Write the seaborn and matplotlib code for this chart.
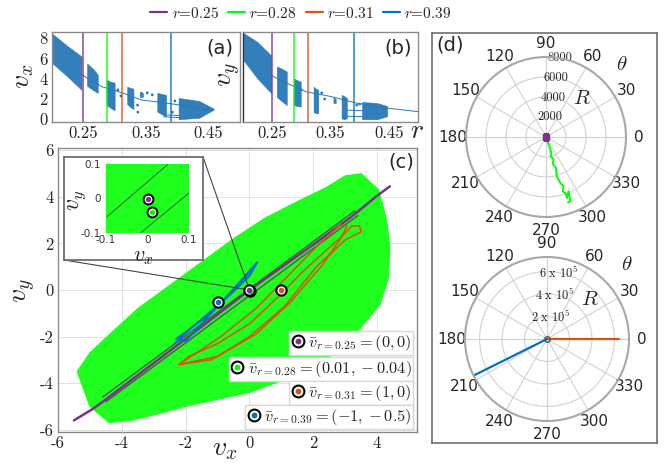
import numpy as np
import matplotlib
matplotlib.use('Agg')
import matplotlib.pyplot as plt
import seaborn as sns
from matplotlib.lines import Line2D
from matplotlib.patches import ConnectionPatch
from matplotlib.legend_handler import HandlerTuple

# ---------------- data ----------------
r_values = [0.25, 0.28, 0.31, 0.39]
r_labels = [r'$r$=0.25', r'$r$=0.28', r'$r$=0.31', r'$r$=0.39']
r_colors = ['#7E2F8E', '#00FF00', '#D95319', '#0072BD']
r_marks = [0.25, 0.288, 0.312, 0.39]      # where the marker lines sit in (a), (b)

# (a) v_x bifurcation clusters: r at left/mid/right edge, lower and upper v
a_band_r = [(0.201, 0.225, 0.247), (0.256, 0.265, 0.273), (0.287, 0.294, 0.300),
            (0.320, 0.325, 0.330), (0.340, 0.3425, 0.345), (0.368, 0.375, 0.382),
            (0.402, 0.435, 0.458)]
a_band_lo = [(5.5, 4.2, 2.9), (3.3, 2.9, 2.6), (1.4, 1.1, 0.9), (1.5, 1.2, 1.0),
             (2.2, 2.2, 2.2), (0.75, 0.5, 0.3), (0.0, 0.15, 0.95)]
a_band_hi = [(8.4, 7.2, 6.2), (5.5, 5.0, 4.4), (3.9, 3.7, 3.6), (3.2, 3.1, 3.0),
             (2.7, 2.7, 2.6), (2.6, 2.5, 2.4), (2.1, 1.8, 1.05)]
a_line_r = [0.247, 0.280, 0.312, 0.343, 0.369, 0.405, 0.457]
a_line_v = [4.4, 3.2, 2.6, 1.9, 1.7, 1.4, 0.9]
a_low_r = [0.378, 0.405]
a_low_v1 = [0.45, 0.36]
a_low_v2 = [0.25, 0.16]
a_dot_r = [0.305, 0.310, 0.3365, 0.337, 0.352, 0.360, 0.392, 0.396]
a_dot_v = [2.9, 2.3, 1.4, 0.7, 2.6, 2.4, 0.7, 1.8]

# (b) v_y bifurcation clusters
b_band_r = [(0.201, 0.225, 0.248), (0.258, 0.266, 0.275), (0.287, 0.293, 0.299),
            (0.321, 0.325, 0.329), (0.355, 0.357, 0.359), (0.369, 0.373, 0.378),
            (0.404, 0.430, 0.447)]
b_band_lo = [(5.8, 4.0, 2.6), (2.2, 1.8, 1.4), (1.4, 1.3, 1.25), (0.7, 0.6, 0.6),
             (1.6, 1.6, 1.6), (0.1, 0.0, 0.1), (0.0, 0.0, 0.3)]
b_band_hi = [(8.5, 7.6, 6.3), (5.2, 5.0, 4.7), (4.0, 3.85, 3.7), (3.2, 3.0, 2.9),
             (2.2, 2.1, 2.0), (2.4, 2.3, 2.1), (1.7, 1.6, 1.3)]
b_line_r = [0.249, 0.275, 0.309, 0.350, 0.394, 0.447, 0.500]
b_line_v = [4.3, 3.55, 2.7, 2.25, 1.6, 1.1, 0.75]
b_low_r = [0.378, 0.404]
b_low_v1 = [0.9, 0.85]
b_low_v2 = [0.3, 0.26]
b_dot_r = [0.300, 0.335, 0.340, 0.395, 0.400, 0.410]
b_dot_v = [2.9, 2.6, 2.0, 1.4, 1.5, 1.45]

# (c) phase-plane trajectories
green_x = [-5.4, -5.0, -4.4, -3.7, -2.8, -2.0, -1.0, 0.0, 1.0, 2.0, 2.8, 3.5, 4.1, 4.35,
           4.4, 4.3, 4.05, 3.5, 3.0, 2.4, 1.5, 0.5, -0.5, -1.5, -2.5, -3.5, -4.3, -5.0, -5.4]
green_y = [-3.5, -5.0, -5.7, -5.6, -5.3, -5.0, -4.7, -4.4, -3.9, -3.3, -2.6, -1.6, -0.6, 0.5,
           1.8, 3.0, 4.3, 5.0, 4.9, 4.4, 3.8, 3.1, 2.2, 1.2, 0.2, -0.8, -1.8, -2.7, -3.5]
purple_x = [-5.5, -4.9, -4.5, -2.0, 0.0, 2.0, 3.2, 4.0, 4.2, 4.4]
purple_y = [-5.6, -5.1, -4.7, -2.1, 0.0, 1.95, 3.15, 4.05, 4.25, 4.45]
grayA_x = [-4.6, 3.3]
grayA_y = [-4.6, 3.4]
grayB_x = [-4.5, 3.4]
grayB_y = [-4.8, 3.2]
blue_x = [-2.35, -1.8, -1.2, -0.6, 0.0, 0.25, 0.05, -0.4, -1.0, -1.6, -2.0, -2.3, -1.9, -1.2, -0.5, 0.1]
blue_y = [-2.3, -1.6, -0.9, -0.2, 0.6, 1.2, 0.9, 0.2, -0.7, -1.6, -2.2, -2.1, -1.7, -1.0, 0.0, 0.9]
orange_x = [-2.2, -1.0, 0.0, 1.1, 2.1, 3.0, 3.5, 3.45, 3.2, 2.9, 2.4, 1.6, 0.9, 0.0, -1.0, -1.9,
            -2.2, -1.2, 0.2, 1.3, 2.3, 2.9, 3.05, 2.85, 2.2, 1.2, 0.2, -0.9, -2.2]
orange_y = [-3.2, -2.85, -2.0, -0.7, 1.0, 2.15, 2.5, 2.75, 2.75, 2.3, 1.7, 0.7, -0.3, -1.45, -2.3, -2.85,
            -3.2, -3.0, -1.9, -0.5, 1.1, 2.3, 2.75, 2.8, 2.0, 0.6, -0.8, -2.0, -3.2]
mean_x = [0.0, 0.01, 1.0, -1.0]
mean_y = [0.0, -0.04, 0.0, -0.5]
mean_labels = [r'$\bar{v}_{r=0.25}=(0,0)$', r'$\bar{v}_{r=0.28}=(0.01,-0.04)$',
               r'$\bar{v}_{r=0.31}=(1,0)$', r'$\bar{v}_{r=0.39}=(-1,-0.5)$']
c_ticks = [-6, -4, -2, 0, 2, 4]
inset_ticks = [-0.1, 0.0, 0.1]
inset_tick_labels = ['-0.1', '0', '0.1']
inset_l1_x = [-0.098, 0.05]
inset_l1_y = [-0.053, 0.1]
inset_l2_x = [-0.017, 0.1]
inset_l2_y = [-0.1, 0.016]

# (d) polar plots
theta_ticks = list(range(0, 360, 30))
top_r_ticks = [2000, 4000, 6000, 8000]
top_r_labels = ['2000', '4000', '6000', '8000']
top_rmax = 8000
green_theta = [270, 289.7, 288.4, 283.6, 288.7, 284.0, 287.9, 285.2, 287.3, 289.7, 287.0,
               289.0, 289.0, 292.6, 290.7, 288.6]
green_r = [0, 990, 1685, 1988, 2390, 2748, 3256, 4075, 4814, 5240, 5680, 5920, 6450, 5880, 6870, 6890]
bot_r_ticks = [2e5, 4e5, 6e5]
bot_r_labels = [r'$2\ \mathrm{x}\ 10^{5}$', r'$4\ \mathrm{x}\ 10^{5}$', r'$6\ \mathrm{x}\ 10^{5}$']
bot_rmax = 7.3e5
orange_theta = [0, 0]
orange_r = [0, 6.4e5]
blue_theta = [206.5, 206.5]
blue_r = [0, 7.2e5]

# ---------------- style ----------------
sns.set_style('white')
plt.rcParams.update({
    'font.family': ['cmr10', 'DejaVu Sans'],
    'mathtext.fontset': 'cm',
    'axes.unicode_minus': False,
    'axes.formatter.use_mathtext': True,
})
SP = '#8a8a8a'
BAND = '#2878B8'
W, H = 664, 463

def fbox(x0, y0, x1, y1):
    return [x0 / W, 1 - y1 / H, (x1 - x0) / W, (y1 - y0) / H]

fig = plt.figure(figsize=(6.64, 4.63), dpi=100)

def style_box(ax):
    for s in ax.spines.values():
        s.set_color(SP)
        s.set_linewidth(1.0)
    ax.tick_params(direction='in', length=2.5, color=SP, labelsize=12, pad=3)

# ---------------- (a) and (b) ----------------
ax_a = fig.add_axes(fbox(52, 32, 240, 122))
ax_b = fig.add_axes(fbox(243, 32, 418, 122))
panels = [(ax_a, a_band_r, a_band_lo, a_band_hi, a_line_r, a_line_v, a_low_r, a_low_v1, a_low_v2, a_dot_r, a_dot_v),
          (ax_b, b_band_r, b_band_lo, b_band_hi, b_line_r, b_line_v, b_low_r, b_low_v1, b_low_v2, b_dot_r, b_dot_v)]
for ax, br, blo, bhi, lr, lv, lowr, lowv1, lowv2, dr, dv in panels:
    for r, lo, hi in zip(br, blo, bhi):
        ax.fill_between(r, lo, hi, color=BAND, lw=0.4, alpha=0.95)
    sns.lineplot(x=lr, y=lv, ax=ax, color=BAND, lw=0.7, sort=False, estimator=None)
    sns.lineplot(x=lowr, y=lowv1, ax=ax, color=BAND, lw=0.7, sort=False, estimator=None)
    sns.lineplot(x=lowr, y=lowv2, ax=ax, color=BAND, lw=0.7, sort=False, estimator=None)
    sns.scatterplot(x=dr, y=dv, ax=ax, color=BAND, s=4, edgecolor='none')
    for xm, c in zip(r_marks, r_colors):
        ax.axvline(xm, color=c, lw=1.3, alpha=0.75)
    ax.set_xlim(0.2, 0.5)
    ax.set_ylim(-0.27, 8.6)
    ax.set_xticks([0.25, 0.35, 0.45])
    ax.set_xticklabels(['0.25', '0.35', '0.45'])
    ax.set_xlabel('')
    ax.set_ylabel('')
    style_box(ax)
ax_a.set_yticks([0, 2, 4, 6, 8])
ax_a.set_yticklabels(['0', '2', '4', '6', '8'])
ax_b.set_yticks([0, 2, 4, 6, 8])
ax_b.set_yticklabels([])
ax_b.spines['left'].set_color('#333333')
fig.text(220 / W, 1 - 48 / H, '(a)', fontsize=14, family='DejaVu Sans', ha='center', va='center')
fig.text(398 / W, 1 - 48 / H, '(b)', fontsize=14, family='DejaVu Sans', ha='center', va='center')
fig.text(23 / W, 1 - 76 / H, r'$v_x$', fontsize=20, rotation=90, ha='center', va='center')
fig.text(230 / W, 1 - 74 / H, r'$v_y$', fontsize=20, rotation=90, ha='center', va='center')
fig.text(417 / W, 1 - 131 / H, r'$r$', fontsize=20, ha='center', va='center')

# ---------------- (c) ----------------
ax_c = fig.add_axes(fbox(58, 148, 417, 432))
ax_c.fill(green_x, green_y, color='#1EFF1E', lw=0.8, zorder=1)
sns.lineplot(x=grayA_x, y=grayA_y, ax=ax_c, color='#555555', lw=1.0, sort=False, estimator=None, zorder=2)
sns.lineplot(x=grayB_x, y=grayB_y, ax=ax_c, color='#555555', lw=1.0, sort=False, estimator=None, zorder=2)
sns.lineplot(x=purple_x, y=purple_y, ax=ax_c, color=r_colors[0], lw=1.8, sort=False, estimator=None, zorder=3)
sns.lineplot(x=orange_x, y=orange_y, ax=ax_c, color=r_colors[2], lw=1.1, sort=False, estimator=None, zorder=3)
sns.lineplot(x=blue_x, y=blue_y, ax=ax_c, color=r_colors[3], lw=1.3, sort=False, estimator=None, zorder=3)
for i in [1, 2, 3, 0]:
    ax_c.scatter([mean_x[i]], [mean_y[i]], s=55, facecolor='white', edgecolor='black', lw=1.5, zorder=6)
    ax_c.scatter([mean_x[i]], [mean_y[i]], s=9, color=r_colors[i], zorder=7)
ax_c.set_xlim(-6, 5.25)
ax_c.set_ylim(-6.1, 6.1)
ax_c.set_xticks(c_ticks)
ax_c.set_xticklabels([str(t) for t in c_ticks])
ax_c.set_yticks(c_ticks + [6])
ax_c.set_yticklabels([str(t) for t in c_ticks + [6]])
ax_c.set_xlabel('')
ax_c.set_ylabel('')
ax_c.grid(True, color='#dddddd', lw=0.6)
ax_c.set_axisbelow(True)
style_box(ax_c)
ax_c.text(0.955, 0.95, '(c)', transform=ax_c.transAxes, fontsize=14, family='DejaVu Sans',
          ha='center', va='center', zorder=8)
fig.text(225 / W, 1 - 449 / H, r'$v_x$', fontsize=20, ha='center', va='center')
fig.text(25 / W, 1 - 290 / H, r'$v_y$', fontsize=20, rotation=90, ha='center', va='center')

row_y = [0.313, 0.222, 0.137, 0.053]
for i in range(4):
    ring = Line2D([], [], ls='none', marker='o', ms=8.5, mfc='white', mec='black', mew=1.5)
    dot = Line2D([], [], ls='none', marker='o', ms=3.2, mfc=r_colors[i], mec=r_colors[i])
    leg = ax_c.legend([(ring, dot)], [mean_labels[i]], loc='center right',
                      bbox_to_anchor=(0.99, row_y[i]), bbox_transform=ax_c.transAxes,
                      handler_map={tuple: HandlerTuple(ndivide=1)}, fontsize=11.8,
                      frameon=True, framealpha=1, edgecolor='#d8d8d8', fancybox=False,
                      borderpad=0.1, handlelength=0.8, handletextpad=0.25, borderaxespad=0)
    leg.set_zorder(9)
    ax_c.add_artist(leg)

# inset
ax_box = fig.add_axes(fbox(64, 157, 203, 260))
ax_box.set_xticks([])
ax_box.set_yticks([])
ax_box.set_facecolor('white')
for s in ax_box.spines.values():
    s.set_color('#6e6e6e')
    s.set_linewidth(1.3)
ax_in = fig.add_axes(fbox(106, 164, 189, 233))
ax_in.set_facecolor('#1EFF1E')
sns.lineplot(x=inset_l1_x, y=inset_l1_y, ax=ax_in, color='#444444', lw=0.6, sort=False, estimator=None)
sns.lineplot(x=inset_l2_x, y=inset_l2_y, ax=ax_in, color='#444444', lw=0.6, sort=False, estimator=None)
for i in [0, 1]:
    ax_in.scatter([mean_x[i]], [mean_y[i]], s=50, facecolor='white', edgecolor='black', lw=1.4, zorder=6)
    ax_in.scatter([mean_x[i]], [mean_y[i]], s=8, color=r_colors[i], zorder=7)
ax_in.set_xlim(-0.1, 0.1)
ax_in.set_ylim(-0.1, 0.1)
ax_in.set_xticks(inset_ticks)
ax_in.set_xticklabels(inset_tick_labels, family='DejaVu Sans', fontsize=7.5)
ax_in.set_yticks(inset_ticks)
ax_in.set_yticklabels(inset_tick_labels, family='DejaVu Sans', fontsize=7.5)
ax_in.tick_params(axis='x', length=0, pad=1.5, colors='#333333')
ax_in.tick_params(axis='y', length=0, pad=4, colors='#333333')
for s in ax_in.spines.values():
    s.set_visible(False)
ax_in.set_xlabel('')
ax_in.set_ylabel('')
fig.text(143 / W, 1 - 257 / H, r'$v_x$', fontsize=16, ha='center', va='center')
fig.text(77 / W, 1 - 200 / H, r'$v_y$', fontsize=17, rotation=90, ha='center', va='center')
for cA in [(0, 0), (1, 1)]:
    con = ConnectionPatch(xyA=cA, coordsA=ax_box.transAxes, xyB=(0, 0), coordsB=ax_c.transData,
                          color='#444444', lw=0.8, zorder=5)
    ax_c.add_artist(con)

# ---------------- (d) ----------------
ax_d = fig.add_axes(fbox(432, 33, 657, 443))
ax_d.set_xticks([])
ax_d.set_yticks([])
for s in ax_d.spines.values():
    s.set_color('#6e6e6e')
    s.set_linewidth(1.2)
fig.text(450 / W, 1 - 45 / H, '(d)', fontsize=14, family='DejaVu Sans', ha='center', va='center')

p_top = fig.add_axes(fbox(466, 57, 626, 217), projection='polar')
p_bot = fig.add_axes(fbox(465, 257, 629, 421), projection='polar')
for pax, rt, rl, rmax in [(p_top, top_r_ticks, top_r_labels, top_rmax),
                          (p_bot, bot_r_ticks, bot_r_labels, bot_rmax)]:
    pax.set_facecolor('none')
    pax.set_thetagrids(theta_ticks, [str(t) for t in theta_ticks], fontsize=11, family='DejaVu Sans')
    pax.set_ylim(0, rmax)
    pax.set_rgrids(rt, rl, angle=80, fontsize=9, ha='center', va='center')
    pax.grid(True, color='#d2d2d2', lw=0.8)
    pax.spines['polar'].set_color('#a8a8a8')
    pax.spines['polar'].set_linewidth(1.5)
    pax.tick_params(axis='x', pad=-1)
    pax.tick_params(axis='y', pad=0)
    pax.set_xlabel('')
    pax.set_ylabel('')

sns.lineplot(x=np.deg2rad(green_theta), y=green_r, ax=p_top, color=r_colors[1], lw=1.4,
             sort=False, estimator=None)
p_top.plot([0], [0], marker='s', ms=4, color=r_colors[0])
sns.lineplot(x=np.deg2rad(orange_theta), y=orange_r, ax=p_bot, color=r_colors[2], lw=1.6,
             sort=False, estimator=None)
sns.lineplot(x=np.deg2rad(blue_theta), y=blue_r, ax=p_bot, color=r_colors[3], lw=1.6,
             sort=False, estimator=None)
p_bot.plot([0], [0], marker='o', ms=4, mfc='none', mec='#555555')
p_top.set_ylim(0, top_rmax)
p_bot.set_ylim(0, bot_rmax)
p_top.set_xlabel('')
p_bot.set_xlabel('')

fig.text(582 / W, 1 - 99 / H, r'$R$', fontsize=15, ha='center', va='center')
fig.text(622 / W, 1 - 65 / H, r'$\theta$', fontsize=15, ha='center', va='center')
fig.text(590 / W, 1 - 300 / H, r'$R$', fontsize=15, ha='center', va='center')
fig.text(627 / W, 1 - 265 / H, r'$\theta$', fontsize=15, ha='center', va='center')

# ---------------- top legend ----------------
handles = [Line2D([], [], color=c, lw=1.6) for c in r_colors]
fig.legend(handles, r_labels, loc='center', bbox_to_anchor=(301 / W, 1 - 13 / H), ncol=4,
           frameon=False, fontsize=11, handlelength=1.1, handletextpad=0.3, columnspacing=0.6)

fig.savefig('out.png', dpi=100)
